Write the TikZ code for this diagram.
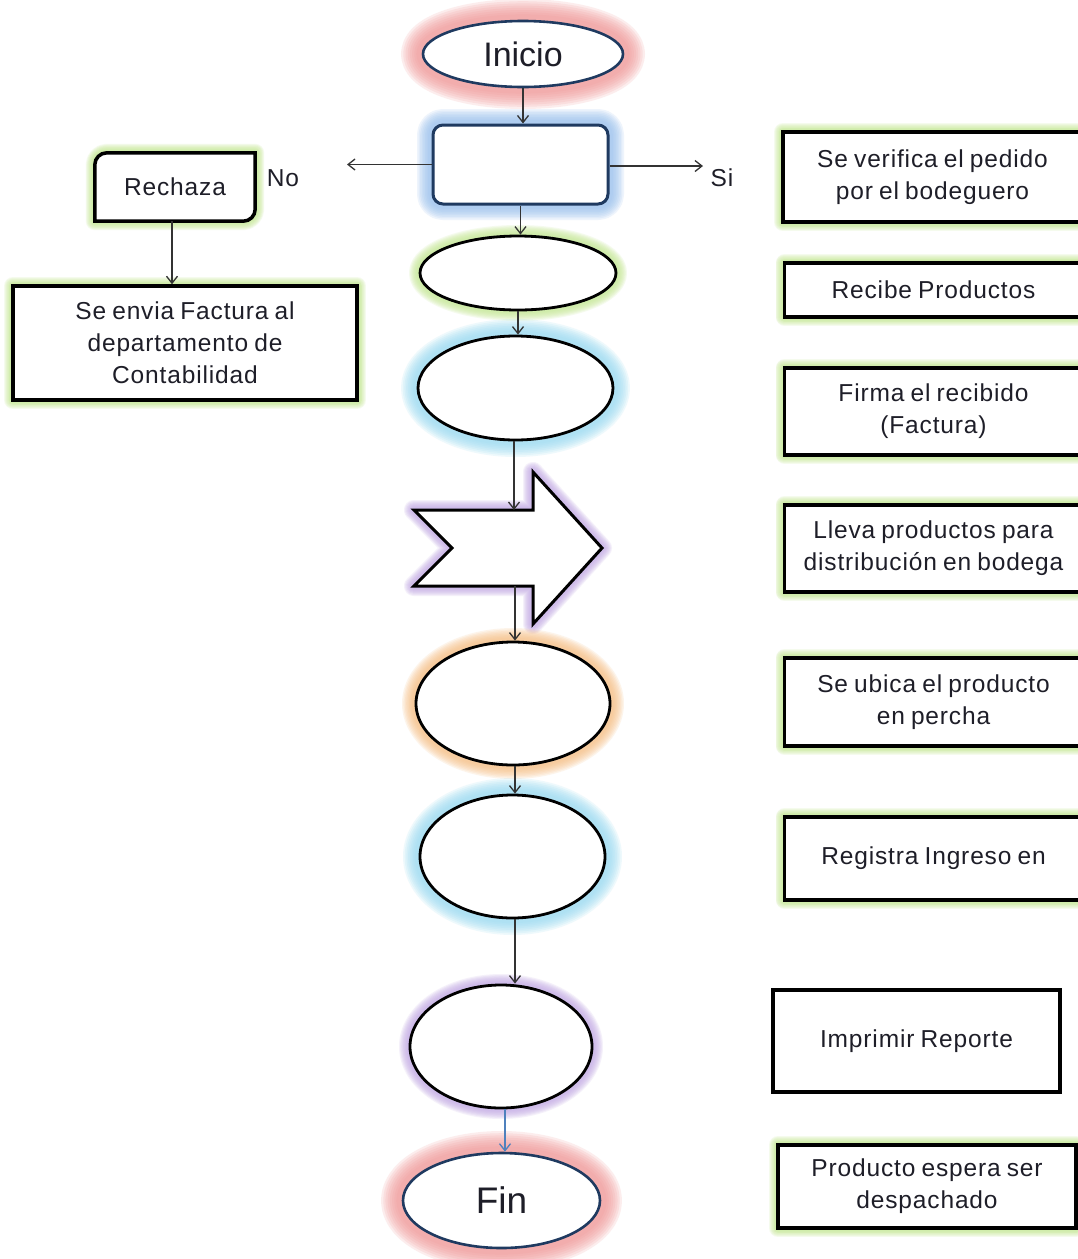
\documentclass[tikz,border=0pt]{standalone}
\usepackage{fontspec}
\setmainfont{Liberation Sans}[LetterSpace=3.5,WordSpace=0.8]
\usetikzlibrary{shapes.geometric,arrows.meta,calc}
\pgfdeclarelayer{bg}
\pgfsetlayers{bg,main}

\definecolor{txt}{HTML}{1E1E28}
\definecolor{navy}{HTML}{1F3A60}
\definecolor{gred}{HTML}{F09494}
\definecolor{gblue}{HTML}{98C0EE}
\definecolor{ggreen}{HTML}{C4E892}
\definecolor{gcyan}{HTML}{98DAF2}
\definecolor{gpurple}{HTML}{C2A8E6}
\definecolor{gorange}{HTML}{F7BE82}
\definecolor{steel}{HTML}{4F81BD}

% white ellipse with a soft grey rim inside the outline
\pgfdeclareradialshading{rim}{\pgfpoint{0bp}{0bp}}{color(0bp)=(white); color(41bp)=(white); color(50bp)=(black!50)}

\tikzset{
  glowring/.style 2 args={preaction={draw=#1, line width=#2, draw opacity=.16, line join=round}},
  glow/.style 2 args={
    glowring={#1}{2.0*#2}, glowring={#1}{1.8*#2}, glowring={#1}{1.6*#2},
    glowring={#1}{1.4*#2}, glowring={#1}{1.2*#2}, glowring={#1}{1.0*#2},
    glowring={#1}{0.8*#2}, glowring={#1}{0.6*#2}},
  lbl/.style={font=\fontsize{24.5}{32}\selectfont, text=txt, align=center, inner sep=0pt},
  big/.style={font=\fontsize{34}{38}\selectfont\addfontfeature{LetterSpace=0}},
  term/.style={ellipse, draw=navy, line width=2.6pt, fill=white, inner sep=0pt, text=txt},
  oval/.style={ellipse, draw=black, line width=2.8pt, shade, shading=rim, inner sep=0pt},
  proc/.style={rectangle, draw=black, line width=3.5pt, fill=white, inner sep=0pt, lbl},
  decide/.style={rectangle, rounded corners=10pt, draw=navy, line width=3pt, fill=white, inner sep=0pt},
  conn/.style={draw=black!80, line width=1.3pt, -{Straight Barb[length=7pt,width=11pt]}},
}

\begin{document}
\begin{tikzpicture}[x=1pt,y=-1pt]
\clip (0,0) rectangle (1078,1259);
\begin{pgfonlayer}{bg}
  \fill[white] (0,0) rectangle (1078,1259);
\end{pgfonlayer}

% ---- central column ----
\node[term, big, glow={gred}{22pt}, minimum width=200pt, minimum height=66pt] (ini) at (523,54) {Inicio};
\node[decide, glow={gblue}{16pt}, minimum width=175pt, minimum height=79pt] (b) at (520.5,164.5) {};
\node[oval, glow={ggreen}{11pt}, minimum width=196pt, minimum height=74pt] (e2) at (518,273) {};
\node[oval, glow={gcyan}{17pt}, minimum width=195pt, minimum height=104pt] (e3) at (515.5,388) {};

% notched block arrow
\draw[glow={gpurple}{10pt}, line width=3pt, fill=white, line join=miter]
  (414,510) -- (533,510) -- (533,472) -- (602,548) -- (533,624) -- (533,586)
  -- (414,586) -- (452,548) -- cycle;
\coordinate (chT) at (514,510);
\coordinate (chB) at (515,586);

\node[oval, glow={gorange}{14pt}, minimum width=194pt, minimum height=123pt] (e4) at (513,703.5) {};
\node[oval, glow={gcyan}{17pt}, minimum width=185pt, minimum height=123pt] (e5) at (512.5,856.5) {};
\node[oval, glow={gpurple}{11pt}, minimum width=182pt, minimum height=123pt] (e6) at (501,1046.5) {};
\node[term, big, glow={gred}{22pt}, minimum width=197pt, minimum height=95pt] (fin) at (501.5,1200.5)
  {\fontsize{37}{40}\selectfont Fin};

% ---- left branch ----
\node[lbl, minimum width=160pt, minimum height=68pt] (rz) at (175,187) {Rechaza};
\begin{pgfonlayer}{bg}
  \draw[glow={ggreen}{9pt}, line width=3.5pt, fill=white, line join=miter]
    (rz.south west) -- ([yshift=-12pt]rz.north west)
    arc[start angle=180, end angle=90, radius=12pt] -- (rz.north east)
    -- ([yshift=12pt]rz.south east)
    arc[start angle=0, end angle=-90, radius=12pt] -- cycle;
\end{pgfonlayer}
\node[proc, glow={ggreen}{9pt}, minimum width=344pt, minimum height=114pt] (fac) at (185,343)
  {Se envia Factura al\\departamento de\\Contabilidad};

\node[lbl] (no) at (283,178) {No};
\node[lbl] (si) at (722,178) {Si};

% ---- right column of descriptions ----
\node[proc, glow={ggreen}{9pt}, minimum width=299pt, minimum height=90pt] (r1) at (932.5,177)
  {Se verifica el pedido\\por el bodeguero};
\node[proc, glow={ggreen}{9pt}, minimum width=298pt, minimum height=54pt] (r2) at (933.5,290)
  {Recibe Productos};
\node[proc, glow={ggreen}{9pt}, minimum width=298pt, minimum height=87pt] (r3) at (933.5,411.5)
  {Firma el recibido\\(Factura)};
\node[proc, glow={ggreen}{9pt}, minimum width=298pt, minimum height=87pt] (r4) at (933.5,548.5)
  {Lleva productos para\\distribución en bodega};
\node[proc, glow={ggreen}{9pt}, minimum width=298pt, minimum height=88pt] (r5) at (933.5,702)
  {Se ubica el producto\\en percha};
\node[proc, glow={ggreen}{9pt}, minimum width=298pt, minimum height=83pt] (r6) at (933.5,858.5)
  {Registra Ingreso en};
\node[proc, minimum width=287pt, minimum height=102pt] (r7) at (916.5,1041)
  {Imprimir Reporte};
\node[proc, glow={ggreen}{9pt}, minimum width=298pt, minimum height=83pt] (r8) at (927,1186.5)
  {Producto espera ser\\despachado};

% ---- connectors ----
\coordinate (noEnd) at (347,164.5);
\coordinate (siEnd) at (703,166);
\draw[conn] (ini.south) -- (ini.south |- b.north);
\draw[conn] (b.west) -- (noEnd);
\draw[conn] (b.east |- siEnd) -- (siEnd);
\draw[conn] (b.south) -- (b.south |- e2.north);
\draw[conn] (e2.south) -- (e2.south |- e3.north);
\draw[conn] ([xshift=-1.5pt]e3.south) -- (chT);
\draw[conn] (chB) -- (chB |- e4.north);
\draw[conn] ([xshift=2pt]e4.south) -- ([xshift=2pt]e4.south |- e5.north);
\draw[conn] ([xshift=2.5pt]e5.south) -- ([xshift=2.5pt]e5.south |- e6.north);
\draw[conn, draw=steel] ([xshift=4pt]e6.south) -- ([xshift=4pt]e6.south |- fin.north);
\draw[conn] ([xshift=-3pt]rz.south) -- ([xshift=-3pt]rz.south |- fac.north);
\end{tikzpicture}
\end{document}
